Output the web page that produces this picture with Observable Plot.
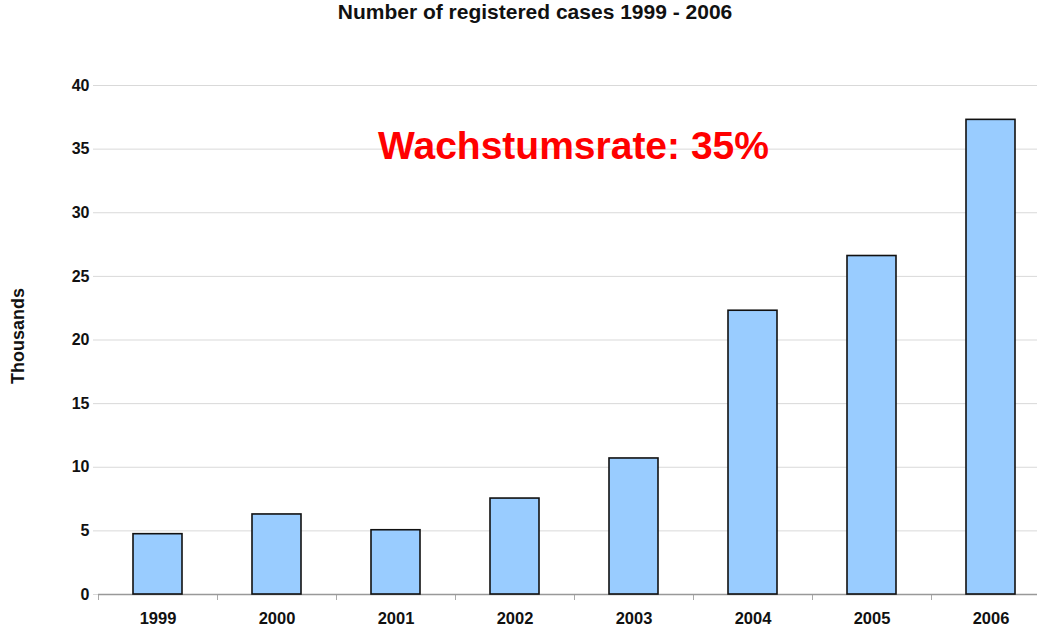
<!DOCTYPE html>
<html>
<head>
<meta charset="utf-8">
<script src="https://cdn.jsdelivr.net/npm/d3@7"></script>
<script src="https://cdn.jsdelivr.net/npm/@observablehq/plot@0.6"></script>
<style>
  html, body { margin: 0; padding: 0; background: #fff; overflow: hidden; width: 1037px; height: 627px; }
  #title { width: 1070px; height: 45px; line-height: 44px; text-align: center; font: bold 21px "Liberation Sans", Arial, sans-serif; color: #111; }
  #chart { width: 1100px; }
  #chart svg { overflow: visible; max-width: none !important; }
</style>
</head>
<body>
<div id="title">Number of registered cases 1999 - 2006</div>
<div id="chart"></div>
<script>
const years = ["1999", "2000", "2001", "2002", "2003", "2004", "2005", "2006"];
const cases = [4.74, 6.29, 5.05, 7.54, 10.69, 22.3, 26.6, 37.3];
const yTicks = [0, 5, 10, 15, 20, 25, 30, 35, 40];
const annotation = "Wachstumsrate: 35%";
const yLabel = "Thousands";

const data = years.map((y, i) => ({year: y, value: cases[i]}));

const width = 1050, marginLeft = 98, marginRight = 0;
const step = (width - marginLeft - marginRight) / years.length;

const chart = Plot.plot({
  width,
  height: 582,
  marginTop: 40,
  marginBottom: 33,
  marginLeft,
  marginRight,
  style: {fontFamily: "'Liberation Sans', Arial, sans-serif", background: "transparent"},
  x: {domain: years, paddingInner: 0.59, paddingOuter: 0.295},
  y: {domain: [0, 40], ticks: yTicks},
  marks: [
    Plot.gridY(yTicks, {stroke: "#d9d9d9", strokeOpacity: 1, strokeWidth: 1}),
    Plot.axisY(yTicks, {
      tickSize: 5, stroke: "#d9d9d9", tickPadding: 4,
      fontSize: 16, fontWeight: "bold", fill: "#111", label: null
    }),
    Plot.text([yLabel], {text: d => d, frameAnchor: "left", textAnchor: "middle", rotate: -90, dx: -80, dy: -4, fontSize: 18, fontWeight: "bold", fill: "#111"}),
    Plot.ruleX(years, {x: d => d, y1: 0, y2: 0, insetBottom: -6, dx: -step / 2, stroke: "#aaa", strokeWidth: 1}),
    Plot.ruleY([0], {stroke: "#999", strokeWidth: 1.5}),
    Plot.ruleX([0], {frameAnchor: "left", y1: 0, y2: 40, stroke: "#999", strokeWidth: 1.5}),
    Plot.barY(data, {x: "year", y: "value", fill: "#99ccff", stroke: "#111", strokeWidth: 1.6}),
    Plot.axisX({tickSize: 0, tickPadding: 18, fontSize: 16.5, fontWeight: "bold", fill: "#111", label: null}),
    Plot.text([annotation], {text: d => d, frameAnchor: "top", dy: 61, dx: -1, fontSize: 39, fontWeight: "bold", fill: "#ff0000", lineAnchor: "middle"})
  ]
});
document.getElementById("chart").appendChild(chart);
</script>
</body>
</html>
